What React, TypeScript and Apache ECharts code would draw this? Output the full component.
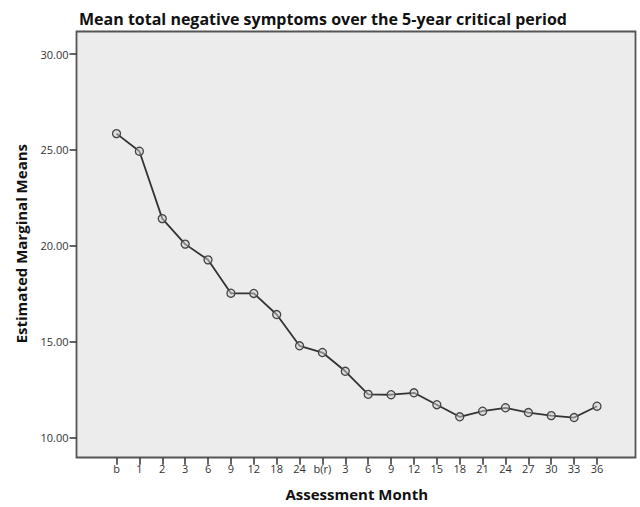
import React, { useEffect, useRef } from "react";
import * as echarts from "echarts";

const titleText = "Mean total negative symptoms over the 5-year critical period";
const xAxisName = "Assessment Month";
const yAxisName = "Estimated Marginal Means";
const categories = ["b", "1", "2", "3", "6", "9", "12", "18", "24", "b(r)", "3", "6", "9", "12", "15", "18", "21", "24", "27", "30", "33", "36"];
const meanValues = [25.85, 24.93, 21.42, 20.09, 19.27, 17.53, 17.52, 16.42, 14.79, 14.44, 13.46, 12.26, 12.24, 12.34, 11.72, 11.09, 11.38, 11.56, 11.31, 11.15, 11.05, 11.64];
const yMin = 10;
const yMax = 30;
const yInterval = 5;

export default function App() {
  const ref = useRef<HTMLDivElement>(null);
  useEffect(() => {
    if (!ref.current) return;
    const chart = echarts.init(ref.current, undefined, { renderer: "svg" });
    const font = "Open Sans";
    chart.setOption({
      animation: false,
      backgroundColor: "#ffffff",
      title: {
        text: titleText,
        left: 74,
        top: 6,
        textStyle: { fontFamily: font, fontWeight: "bold", fontSize: 16, color: "#111" },
      },
      graphic: [
        {
          type: "rect",
          z: -10,
          silent: true,
          shape: { x: 76.5, y: 31.5, width: 559, height: 426 },
          style: { fill: "#ececec", stroke: "#555", lineWidth: 1.8 },
        },
        {
          type: "text",
          left: 13,
          top: 144,
          rotation: Math.PI / 2,
          style: {
            text: yAxisName,
            fontFamily: font,
            fontWeight: "bold",
            fontSize: 15,
            fill: "#111",
          },
        },
      ],
      grid: { left: 116.5, right: 43, top: 54, bottom: 69.3, containLabel: false, outerBoundsMode: "none" },
      xAxis: {
        type: "category",
        data: categories,
        boundaryGap: false,
        offset: 20,
        axisLine: { show: false, onZero: false },
        axisTick: { show: true, inside: false, length: 7, alignWithLabel: true, lineStyle: { color: "#333", width: 1.5 } },
        axisLabel: { interval: 0, color: "#333", fontFamily: font, fontSize: 11, margin: 5 },
        splitLine: { show: false },
        name: xAxisName,
        nameLocation: "middle",
        nameGap: 29,
        nameTextStyle: { fontFamily: font, fontWeight: "bold", fontSize: 15, color: "#111" },
      },
      yAxis: {
        type: "value",
        min: yMin,
        max: yMax,
        interval: yInterval,
        offset: 40,
        axisLine: { show: false, onZero: false },
        axisTick: { show: true, length: 7, lineStyle: { color: "#333", width: 1.5 } },
        axisLabel: {
          color: "#333",
          fontFamily: font,
          fontSize: 11,
          margin: 8,
          formatter: (v: number) => v.toFixed(2),
        },
        splitLine: { show: false },
      },
      series: [
        {
          type: "line",
          data: meanValues,
          symbol: "circle",
          symbolSize: 8,
          itemStyle: { color: "rgba(210,210,210,0.5)", borderColor: "#444", borderWidth: 1.3 },
          lineStyle: { color: "#333", width: 1.8 },
        },
      ],
    });
    return () => chart.dispose();
  }, []);
  return <div ref={ref} style={{ position: "fixed", left: 0, top: 0, width: 640, height: 507 }} />;
}
